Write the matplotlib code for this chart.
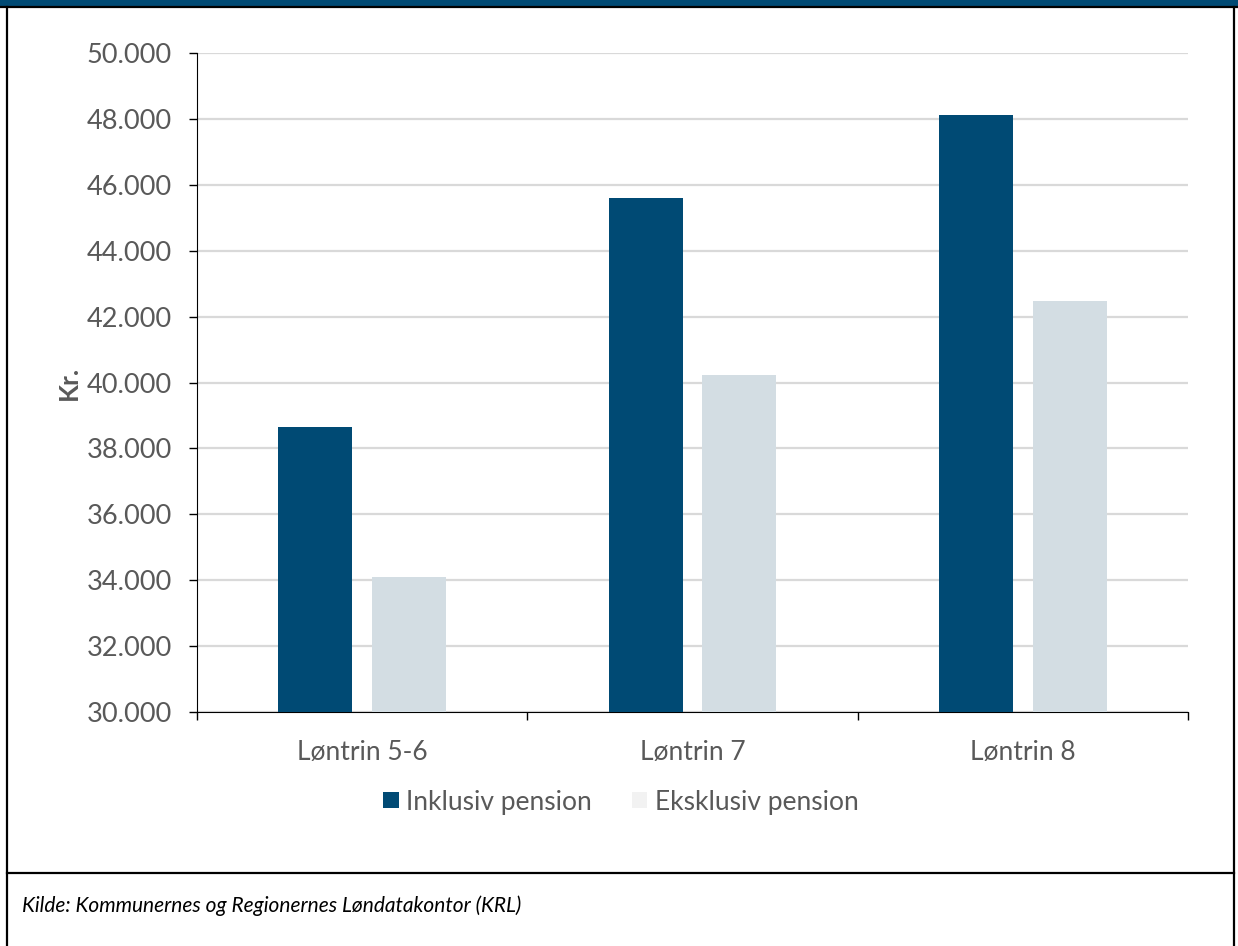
import matplotlib.pyplot as plt
import numpy as np
from matplotlib.patches import Patch, Rectangle
from matplotlib.lines import Line2D
from matplotlib.ticker import FuncFormatter, MultipleLocator

categories = ['Løntrin 5-6', 'Løntrin 7', 'Løntrin 8']
inklusiv = [38650, 45600, 48120]
eksklusiv = [34100, 40230, 42470]
series_names = ['Inklusiv pension', 'Eksklusiv pension']

navy = '#004a74'
light = '#d3dde3'
grey_txt = '#595959'

plt.rcParams['font.family'] = ['Lato', 'DejaVu Sans']

fig = plt.figure(figsize=(12.38, 9.46), dpi=100)
W, H = 1238, 946

# frame
fig.patches.append(Rectangle((0, 1 - 6 / H), 1, 6 / H, transform=fig.transFigure,
                             facecolor=navy, edgecolor='none'))
for (x0, y0, x1, y1) in [(0, 1 - 7 / H, 1, 1 - 7 / H),
                         (7 / W, 0, 7 / W, 1 - 7 / H),
                         (1234 / W, 0, 1234 / W, 1 - 7 / H),
                         (7 / W, 1 - 873 / H, 1234 / W, 1 - 873 / H)]:
    fig.add_artist(Line2D([x0, x1], [y0, y1], transform=fig.transFigure,
                          color='black', lw=1.6))

ax = fig.add_axes([197 / W, 1 - 712 / H, (1188 - 197) / W, (712 - 53) / H])

x = np.arange(len(categories))
w = 0.224
off = 0.142
ax.bar(x - off, inklusiv, w, color=navy, zorder=3)
ax.bar(x + off, eksklusiv, w, color=light, zorder=3)

ax.set_ylim(30000, 50000)
ax.set_xlim(-0.5, 2.5)
ax.yaxis.set_major_locator(MultipleLocator(2000))
ax.yaxis.set_major_formatter(FuncFormatter(lambda v, p: f'{v:,.0f}'.replace(',', '.')))
ax.grid(axis='y', color='#d9d9d9', lw=1.6, zorder=0)

ax.set_xticks(x)
ax.set_xticklabels(categories)
ax.set_xticks([-0.5, 0.5, 1.5, 2.5], minor=True)
ax.tick_params(axis='x', which='major', length=0, pad=20, labelsize=19, labelcolor=grey_txt)
ax.tick_params(axis='x', which='minor', length=6, width=1, color='black', direction='out')
ax.tick_params(axis='y', length=6, width=1, color='black', pad=12, labelsize=19.5, labelcolor=grey_txt)

for s in ['top', 'right']:
    ax.spines[s].set_visible(False)
ax.spines['left'].set_color('black')
ax.spines['bottom'].set_color('black')

ax.set_ylabel('Kr.', fontsize=19, fontweight='bold', color=grey_txt, labelpad=4)

handles = [Patch(facecolor=navy, label=series_names[0]),
           Patch(facecolor='#f2f2f2', label=series_names[1])]
fig.legend(handles=handles, loc='center', bbox_to_anchor=(621 / W, 1 - 802 / H), ncol=2,
           frameon=False, fontsize=19, labelcolor=grey_txt, handlelength=0.58,
           handleheight=0.58, handletextpad=0.3, columnspacing=1.5)

fig.text(22 / W, 1 - 906 / H, 'Kilde: Kommunernes og Regionernes Løndatakontor (KRL)',
         fontsize=15, style='italic', color='black', va='center')

fig.savefig('out.png', dpi=100)
